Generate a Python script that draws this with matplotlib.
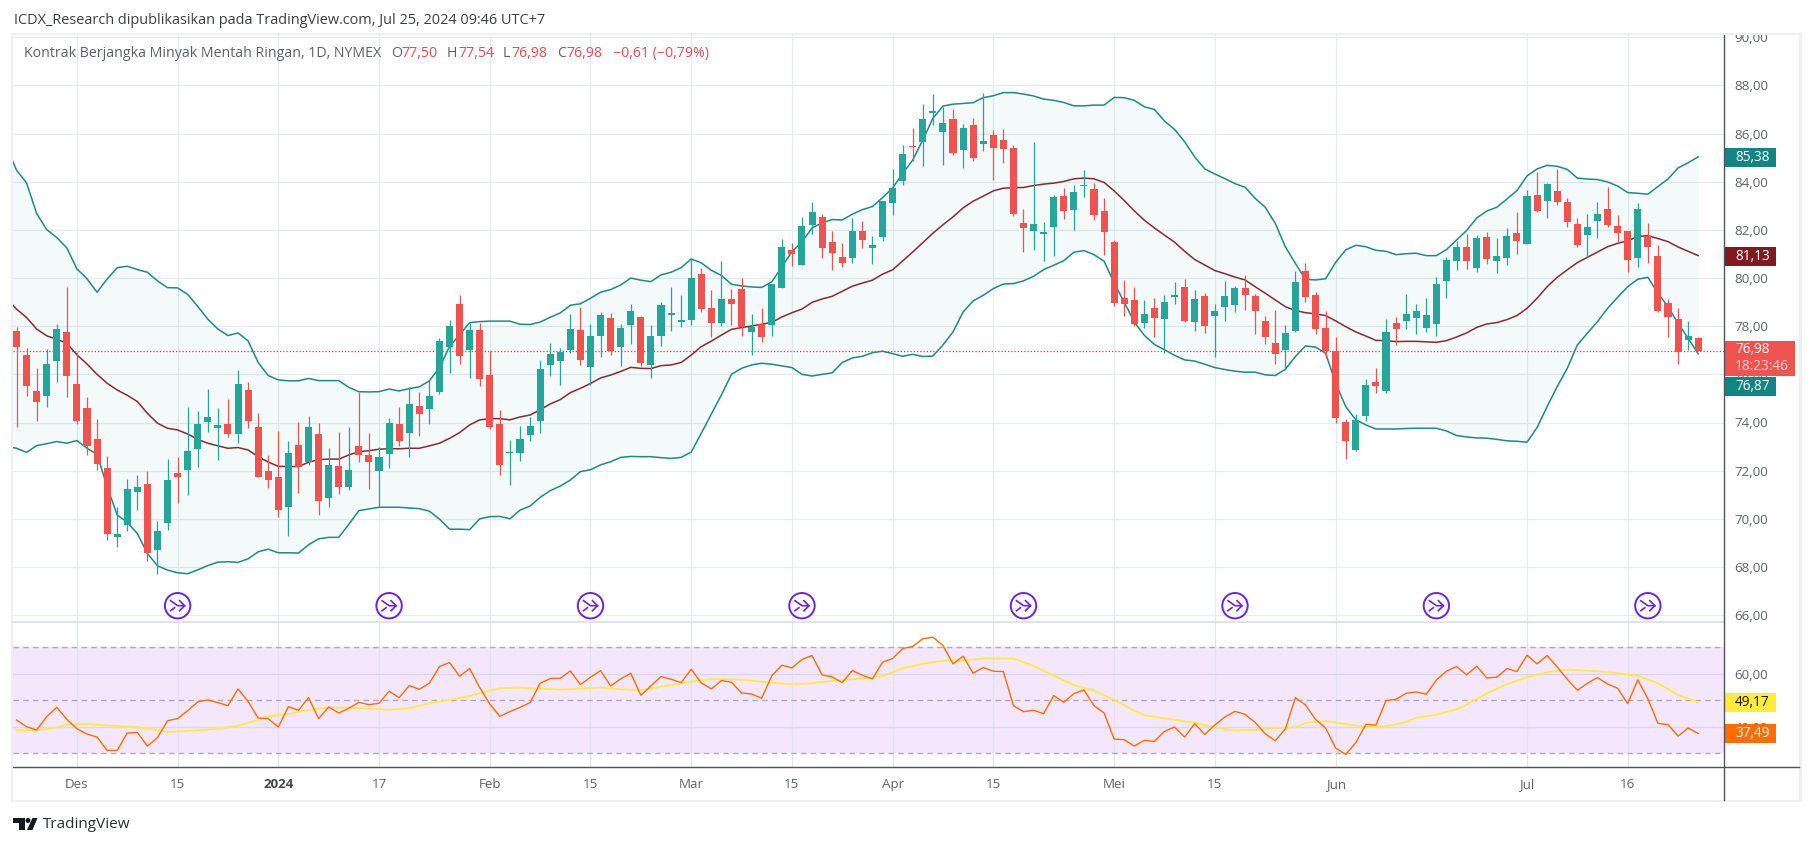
#!/usr/bin/env python3
# -*- coding: utf-8 -*-

import matplotlib
matplotlib.use("Agg")
import matplotlib.pyplot as plt
from matplotlib.patches import Rectangle, Polygon, Circle
import numpy as np

plt.rcParams['font.family'] = ['Open Sans', 'DejaVu Sans']

# daily candles, one row of ten per line
OPEN = [
    77.81, 76.81, 75.31, 75.08, 76.57, 77.77, 75.61, 74.61, 73.32, 72.11,
    69.24, 69.74, 71.11, 71.45, 68.70, 69.83, 71.90, 72.03, 72.90, 74.03,
    73.77, 73.94, 73.53, 75.36, 73.82, 71.99, 71.74, 70.49, 73.07, 72.36,
    73.53, 70.87, 72.20, 71.32, 73.03, 72.65, 71.99, 72.69, 73.94, 73.57,
    74.69, 74.57, 75.27, 77.14, 78.93, 77.02, 77.85, 75.98, 73.94, 72.74,
    72.74, 73.49, 74.07, 76.39, 76.56, 77.02, 77.85, 76.31, 77.60, 78.33,
    77.15, 78.03, 78.37, 76.39, 77.58, 78.45, 78.16, 78.24, 80.15, 78.74,
    78.12, 79.12, 79.53, 77.74, 78.08, 78.03, 79.57, 81.15, 80.53, 82.19,
    82.53, 81.49, 80.86, 80.82, 81.94, 81.24, 81.69, 83.11, 84.02, 85.48,
    85.64, 86.85, 86.06, 86.60, 85.31, 86.35, 85.56, 85.93, 85.73, 85.39,
    82.28, 81.94, 81.82, 82.11, 83.40, 82.82, 83.81, 83.69, 82.77, 81.49,
    79.16, 79.07, 78.12, 78.74, 78.28, 79.24, 79.61, 78.16, 79.26, 78.42,
    78.80, 78.88, 79.59, 79.26, 78.22, 77.30, 77.01, 77.80, 80.29, 79.30,
    77.93, 76.97, 74.02, 72.86, 74.27, 75.69, 75.31, 78.13, 78.22, 78.34,
    77.93, 78.09, 79.88, 80.71, 81.29, 80.42, 81.69, 80.71, 80.83, 81.87,
    81.41, 83.45, 83.20, 83.62, 83.16, 82.25, 81.79, 82.37, 82.87, 82.16,
    81.95, 80.83, 81.75, 80.92, 78.97, 78.30, 77.43, 77.50,
]
HIGH = [
    77.96, 77.09, 76.27, 77.05, 78.10, 79.64, 76.91, 75.06, 74.15, 72.61,
    70.48, 71.65, 71.82, 71.99, 69.91, 72.49, 72.57, 74.65, 74.48, 75.40,
    74.61, 74.98, 76.19, 75.69, 74.40, 72.65, 73.65, 73.24, 74.03, 74.27,
    73.98, 72.94, 73.61, 73.82, 75.27, 73.57, 72.99, 74.19, 74.65, 75.47,
    75.27, 75.77, 77.52, 78.27, 79.31, 78.14, 78.14, 76.98, 74.52, 73.28,
    73.86, 74.23, 76.60, 77.31, 77.10, 78.52, 78.81, 78.10, 78.60, 78.56,
    78.08, 78.91, 78.41, 78.03, 78.99, 79.61, 79.28, 80.78, 80.40, 79.49,
    80.70, 79.53, 79.99, 78.49, 78.74, 79.74, 81.61, 81.44, 82.53, 83.15,
    82.65, 81.94, 81.44, 82.48, 82.36, 81.74, 83.19, 84.52, 85.52, 86.23,
    87.22, 87.64, 87.11, 87.02, 86.39, 86.64, 87.68, 86.14, 86.18, 85.52,
    82.86, 85.64, 82.32, 83.44, 83.73, 83.86, 84.48, 83.94, 83.31, 81.57,
    79.91, 79.61, 79.07, 79.16, 79.28, 79.82, 79.95, 79.49, 79.38, 78.92,
    79.88, 79.67, 80.13, 79.34, 78.42, 78.67, 78.05, 80.29, 80.63, 79.42,
    78.63, 77.55, 74.15, 74.36, 75.81, 76.27, 78.30, 78.38, 79.34, 78.92,
    79.17, 80.04, 80.87, 81.54, 81.83, 81.79, 81.91, 81.66, 82.08, 82.74,
    83.66, 84.40, 83.95, 84.53, 83.32, 82.49, 82.66, 83.16, 83.78, 82.62,
    81.95, 83.12, 82.29, 81.37, 79.13, 78.76, 78.22, 77.54,
]
LOW = [
    73.83, 75.11, 74.07, 74.65, 75.69, 75.06, 73.94, 72.65, 72.03, 69.12,
    68.83, 69.49, 70.37, 68.25, 67.70, 69.53, 70.66, 70.99, 72.15, 73.61,
    72.45, 73.40, 73.15, 73.77, 71.74, 71.28, 70.08, 69.29, 71.07, 72.24,
    70.16, 70.49, 71.03, 71.20, 72.36, 71.24, 70.53, 72.11, 73.03, 72.57,
    73.44, 73.94, 75.19, 76.06, 76.44, 75.85, 75.52, 73.73, 71.82, 71.41,
    72.40, 73.24, 73.57, 75.94, 75.56, 76.89, 76.39, 75.56, 76.73, 76.80,
    76.35, 77.24, 76.35, 75.86, 77.16, 77.79, 77.95, 78.03, 78.58, 77.54,
    77.99, 78.03, 77.58, 76.79, 77.33, 77.58, 79.57, 80.49, 80.53, 81.82,
    80.82, 80.32, 80.45, 80.61, 81.24, 80.57, 81.53, 82.61, 83.86, 84.85,
    84.65, 86.35, 84.69, 85.10, 84.56, 84.85, 85.27, 84.06, 84.77, 82.57,
    81.07, 81.15, 80.70, 80.90, 82.44, 81.98, 83.36, 82.40, 80.95, 78.82,
    78.41, 78.00, 77.91, 77.54, 76.87, 78.91, 78.16, 77.79, 77.72, 76.72,
    78.22, 78.59, 78.67, 77.68, 77.26, 76.43, 76.18, 77.76, 79.01, 77.66,
    76.68, 73.98, 72.49, 72.83, 74.07, 75.23, 75.23, 77.22, 77.89, 77.68,
    77.76, 77.60, 79.17, 80.34, 80.38, 80.25, 80.58, 80.21, 80.54, 81.00,
    81.41, 82.74, 82.49, 83.03, 82.12, 81.29, 80.88, 81.66, 82.12, 81.50,
    80.25, 80.46, 80.63, 78.59, 77.55, 76.43, 77.01, 76.98,
]
CLOSE = [
    77.12, 75.52, 74.86, 76.44, 77.89, 75.95, 74.07, 73.03, 72.28, 69.37,
    69.37, 71.24, 71.32, 68.58, 69.49, 71.61, 71.74, 72.82, 73.94, 74.23,
    73.90, 73.53, 75.61, 74.07, 71.74, 71.61, 70.37, 72.74, 72.15, 73.82,
    70.74, 72.24, 71.32, 72.03, 72.65, 72.36, 72.57, 73.98, 73.24, 74.77,
    74.36, 75.11, 77.39, 78.02, 76.77, 77.85, 75.81, 73.82, 72.24, 72.78,
    73.32, 73.86, 76.23, 76.85, 76.94, 77.89, 76.60, 77.60, 78.45, 76.99,
    77.91, 78.62, 76.49, 77.58, 78.86, 78.53, 78.24, 79.99, 78.70, 78.12,
    79.12, 78.91, 77.95, 77.95, 77.54, 79.74, 81.28, 80.99, 82.15, 82.73,
    81.24, 81.03, 80.61, 81.94, 81.57, 81.36, 83.19, 83.73, 85.14, 85.44,
    86.60, 86.93, 86.43, 85.19, 86.23, 84.98, 85.69, 85.39, 85.35, 82.65,
    82.07, 82.23, 81.90, 83.36, 82.77, 83.56, 83.86, 82.61, 81.90, 78.95,
    78.91, 78.08, 78.49, 78.33, 78.99, 79.28, 78.20, 79.12, 78.01, 78.63,
    79.26, 79.59, 79.30, 78.63, 77.55, 76.85, 77.72, 79.84, 79.21, 77.89,
    76.97, 74.19, 73.24, 74.11, 75.56, 75.52, 77.76, 77.89, 78.51, 78.63,
    78.47, 79.75, 80.75, 81.29, 80.71, 81.66, 80.79, 80.92, 81.75, 81.54,
    83.41, 82.78, 83.91, 83.16, 82.33, 81.37, 82.12, 82.66, 82.20, 81.87,
    80.75, 82.87, 81.29, 78.63, 78.38, 76.93, 77.60, 76.98,
]

# bollinger bands, first value sits one bar left of the visible candles
BB_UPPER = [
    85.48, 84.48, 83.95, 82.68, 82.01, 81.68, 81.25, 80.38, 79.97, 79.41,
    79.96, 80.43, 80.49, 80.35, 80.24, 79.88, 79.60, 79.59, 79.32, 78.82,
    78.29, 77.88, 77.61, 77.72, 77.39, 76.49, 75.95, 75.77, 75.73, 75.73,
    75.83, 75.74, 75.74, 75.74, 75.46, 75.28, 75.27, 75.28, 75.39, 75.31,
    75.41, 75.48, 75.73, 76.28, 77.15, 77.64, 78.15, 78.19, 78.21, 78.21,
    78.21, 78.08, 78.07, 78.17, 78.37, 78.55, 78.87, 78.93, 79.16, 79.41,
    79.52, 79.71, 80.00, 79.91, 79.85, 80.13, 80.24, 80.43, 80.79, 80.63,
    80.32, 80.11, 79.74, 79.67, 79.63, 79.61, 79.84, 80.46, 81.09, 81.50,
    82.08, 82.29, 82.43, 82.41, 82.65, 82.84, 82.97, 83.34, 83.74, 84.34,
    84.90, 85.73, 86.63, 87.14, 87.22, 87.25, 87.28, 87.49, 87.57, 87.70,
    87.70, 87.64, 87.56, 87.43, 87.38, 87.29, 87.15, 87.15, 87.18, 87.18,
    87.50, 87.49, 87.38, 87.11, 87.00, 86.52, 86.17, 85.66, 85.03, 84.53,
    84.32, 84.13, 83.92, 83.77, 83.31, 82.94, 82.27, 81.30, 80.61, 79.95,
    79.92, 79.97, 80.65, 81.17, 81.36, 81.30, 81.15, 81.11, 80.97, 81.01,
    81.03, 80.93, 80.93, 81.18, 81.58, 81.97, 82.49, 82.78, 82.94, 83.28,
    83.63, 84.24, 84.53, 84.68, 84.64, 84.51, 84.15, 84.11, 84.09, 83.99,
    83.82, 83.55, 83.52, 83.48, 83.80, 84.11, 84.57, 84.79, 85.03,
]
BB_MID = [
    79.16, 78.71, 78.36, 77.88, 77.60, 77.46, 77.29, 76.81, 76.43, 76.00,
    75.63, 75.35, 75.13, 74.87, 74.38, 73.97, 73.76, 73.69, 73.52, 73.30,
    73.14, 73.03, 72.93, 72.96, 72.86, 72.58, 72.36, 72.18, 72.17, 72.17,
    72.35, 72.46, 72.48, 72.48, 72.65, 72.79, 72.83, 72.89, 72.91, 72.91,
    72.93, 72.93, 73.03, 73.14, 73.34, 73.58, 73.90, 74.11, 74.16, 74.16,
    74.11, 74.23, 74.31, 74.53, 74.77, 74.95, 75.24, 75.42, 75.62, 75.85,
    75.97, 76.12, 76.29, 76.25, 76.24, 76.36, 76.39, 76.49, 76.80, 77.15,
    77.38, 77.63, 77.87, 77.94, 78.01, 78.08, 78.16, 78.38, 78.56, 78.71,
    78.99, 79.13, 79.24, 79.45, 79.66, 79.79, 79.91, 80.16, 80.34, 80.71,
    81.08, 81.47, 81.86, 82.21, 82.54, 82.91, 83.19, 83.40, 83.62, 83.73,
    83.75, 83.76, 83.84, 83.90, 83.94, 84.01, 84.12, 84.15, 84.12, 83.97,
    83.62, 83.22, 82.79, 82.40, 82.08, 81.78, 81.49, 81.11, 80.77, 80.54,
    80.31, 80.18, 80.04, 79.92, 79.64, 79.37, 79.09, 78.81, 78.65, 78.56,
    78.51, 78.44, 78.22, 77.98, 77.76, 77.59, 77.41, 77.40, 77.36, 77.37,
    77.37, 77.35, 77.33, 77.40, 77.55, 77.72, 77.95, 78.09, 78.15, 78.27,
    78.44, 78.74, 79.16, 79.64, 80.03, 80.34, 80.64, 80.86, 81.08, 81.30,
    81.44, 81.55, 81.72, 81.76, 81.64, 81.51, 81.29, 81.11, 80.93,
]
BB_LOWER = [
    73.00, 72.93, 72.76, 73.04, 73.12, 73.21, 73.14, 73.25, 72.93, 72.68,
    71.33, 70.16, 69.85, 69.39, 68.56, 68.05, 67.87, 67.76, 67.72, 67.88,
    68.06, 68.20, 68.22, 68.19, 68.34, 68.63, 68.74, 68.59, 68.59, 68.58,
    68.92, 69.17, 69.23, 69.23, 69.77, 70.34, 70.41, 70.48, 70.48, 70.48,
    70.45, 70.42, 70.32, 69.99, 69.57, 69.57, 69.55, 70.00, 70.09, 70.10,
    70.00, 70.36, 70.53, 70.89, 71.17, 71.36, 71.61, 71.96, 72.04, 72.24,
    72.37, 72.55, 72.59, 72.58, 72.58, 72.54, 72.51, 72.55, 72.77, 73.55,
    74.35, 75.14, 76.00, 76.25, 76.39, 76.46, 76.42, 76.35, 76.28, 76.00,
    75.93, 76.00, 76.06, 76.49, 76.68, 76.75, 76.90, 76.96, 76.86, 76.75,
    76.83, 76.74, 76.76, 77.22, 77.76, 78.59, 79.05, 79.28, 79.56, 79.75,
    79.77, 79.88, 80.07, 80.35, 80.53, 80.72, 81.07, 81.14, 80.97, 80.70,
    79.79, 79.00, 78.17, 77.62, 77.24, 77.02, 76.79, 76.60, 76.55, 76.42,
    76.28, 76.20, 76.13, 76.09, 76.09, 75.98, 75.95, 76.21, 76.74, 77.18,
    77.13, 76.88, 75.63, 74.66, 74.11, 73.90, 73.73, 73.73, 73.73, 73.75,
    73.76, 73.76, 73.76, 73.65, 73.46, 73.40, 73.36, 73.35, 73.30, 73.24,
    73.22, 73.18, 73.79, 74.66, 75.49, 76.25, 77.22, 77.71, 78.19, 78.74,
    79.20, 79.64, 79.95, 80.03, 79.37, 78.81, 78.12, 77.50, 76.85,
]

RSI = [
    42.56, 40.04, 38.78, 43.82, 47.35, 42.81, 39.28, 37.27, 36.13, 31.09,
    31.09, 37.64, 37.89, 32.73, 35.88, 42.31, 43.07, 46.09, 49.37, 50.13,
    49.12, 47.98, 54.29, 49.50, 43.32, 43.07, 39.91, 47.60, 46.22, 51.01,
    43.07, 47.48, 45.21, 46.97, 49.24, 48.36, 48.87, 53.41, 51.01, 55.55,
    54.16, 56.43, 62.74, 64.25, 59.08, 61.98, 54.79, 48.61, 43.95, 45.71,
    47.35, 49.12, 56.43, 58.20, 58.32, 61.10, 55.93, 58.70, 61.22, 55.42,
    58.07, 60.21, 51.89, 55.42, 58.95, 57.95, 56.68, 61.73, 56.56, 54.29,
    57.44, 56.81, 52.77, 52.40, 50.76, 59.21, 63.24, 62.23, 65.38, 66.90,
    59.58, 58.83, 56.68, 61.22, 59.46, 58.07, 64.38, 65.76, 69.55, 70.30,
    73.20, 73.83, 70.68, 63.75, 66.65, 60.21, 62.36, 60.97, 60.85, 47.98,
    45.71, 46.22, 44.96, 51.77, 49.24, 52.52, 53.91, 47.98, 45.21, 35.37,
    35.12, 32.73, 34.87, 34.49, 38.27, 39.91, 36.13, 41.17, 37.14, 40.67,
    43.70, 45.84, 44.70, 41.68, 37.39, 34.74, 39.16, 51.01, 48.24, 42.81,
    39.53, 31.97, 29.57, 33.99, 40.92, 40.67, 49.87, 50.38, 52.65, 53.15,
    52.27, 57.69, 60.97, 62.74, 59.58, 62.86, 58.45, 58.70, 61.98, 60.85,
    67.02, 63.75, 66.90, 62.61, 57.95, 53.78, 56.43, 58.58, 56.18, 54.54,
    48.74, 57.69, 50.63, 41.30, 40.80, 36.51, 39.53, 37.49,
]
MA_BARS = [
    0, 2, 4, 5, 7, 10, 12, 14, 15, 18, 20, 22, 24, 25, 27, 29, 31, 33, 35, 37,
    39, 41, 43, 45, 47, 48, 50, 52, 54, 56, 58, 60, 62, 63, 65, 67, 69, 71, 73, 75,
    77, 79, 81, 83, 85, 86, 88, 90, 92, 94, 96, 99, 101, 103, 105, 107, 109, 111, 112, 114,
    117, 119, 121, 123, 125, 127, 128, 130, 132, 134, 136, 138, 139, 141, 143, 144, 146, 148, 150, 152,
    154, 157, 159, 161, 163, 165, 167,
]
RSI_MA = [
    38.78, 38.65, 39.79, 40.80, 41.05, 40.29, 39.91, 38.65, 38.02, 38.65,
    39.28, 40.42, 42.56, 43.95, 44.83, 46.34, 47.23, 47.23, 46.85, 46.47,
    46.97, 48.87, 50.13, 51.64, 53.66, 54.54, 54.79, 54.41, 54.04, 54.41,
    54.79, 54.16, 53.91, 54.41, 55.80, 57.06, 57.95, 57.95, 57.44, 56.68,
    56.05, 56.43, 57.32, 57.95, 58.58, 59.08, 62.11, 63.75, 64.88, 65.01,
    65.76, 65.76, 62.99, 59.33, 55.80, 53.66, 50.13, 46.09, 44.33, 43.19,
    41.55, 39.79, 38.65, 38.78, 39.53, 39.79, 41.43, 42.18, 41.05, 39.91,
    40.17, 41.80, 43.44, 44.58, 46.60, 48.36, 52.65, 56.05, 58.70, 60.59,
    61.60, 60.97, 60.21, 59.21, 56.43, 52.02, 49.17,
]

DATE_BARS = [6, 16, 26, 36, 47, 57, 67, 77, 87, 97, 109, 119, 131, 150, 160]
DATE_LABELS = ["Des", "15", "2024", "17", "Feb", "15", "Mar", "15", "Apr", "15",
               "Mei", "15", "Jun", "Jul", "16"]
PRICE_TICKS = list(range(66, 92, 2))
RSI_TICKS = [40, 60]
ICON_BARS = [16, 37, 57, 78, 100, 121, 141, 162]
LAST_PRICE = 76.98

W, H = 1814, 846
GREEN = "#26a69a"
RED = "#ef5350"
TEAL = "#1f8a87"
GRID = "#e4ebf2"
TICK = "#5f626d"

# pixel layout of the panes
X0, BAR_DX = 16.5, 10.07
LEFT, RIGHT = 13, 1724
MAIN_TOP, MAIN_BOTTOM = 35, 622
RSI_BOTTOM = 767


def bar_px(i):
    return X0 + BAR_DX * i


def pane(top, bottom):
    return [LEFT / W, 1 - bottom / H, (RIGHT - LEFT) / W, (bottom - top) / H]


figure = plt.figure(figsize=(W / 100, H / 100), dpi=100, facecolor="white")
xlim = ((LEFT - X0) / BAR_DX, (RIGHT - X0) / BAR_DX)

# price pane: 84 sits at y=181.7 and one unit is 24.08 px
ax = figure.add_axes(pane(MAIN_TOP, MAIN_BOTTOM))
ax.set_xlim(*xlim)
ax.set_ylim(84 - (MAIN_BOTTOM - 181.7) / 24.08, 84 + (181.7 - MAIN_TOP) / 24.08)
ax.set_axisbelow(True)
ax.grid(True, color=GRID, lw=0.85)
ax.set_xticks(DATE_BARS)
ax.set_xticklabels([])
ax.set_yticks(PRICE_TICKS)
ax.set_yticklabels(["%d,00" % p for p in PRICE_TICKS])
ax.yaxis.tick_right()
ax.tick_params(axis="both", length=0)
ax.tick_params(axis="y", labelsize=9.6, labelcolor=TICK, pad=7.5)
for spine in ax.spines.values():
    spine.set_visible(False)

bb_bars = np.arange(-1, 168)
ax.fill_between(bb_bars, BB_LOWER, BB_UPPER, color=GREEN, alpha=0.055, lw=0, zorder=1)
ax.plot(bb_bars, BB_UPPER, color=TEAL, lw=1.1, zorder=2)
ax.plot(bb_bars, BB_LOWER, color=TEAL, lw=1.1, zorder=2)
ax.plot(bb_bars, BB_MID, color="#8a2a2f", lw=1.1, zorder=2)
ax.axhline(LAST_PRICE, color="#f23645", lw=0.9, ls=(0, (1, 1.6)), zorder=2.5)

bars = np.arange(len(OPEN))
opens, highs, lows, closes = map(np.array, (OPEN, HIGH, LOW, CLOSE))
colors = np.where(closes >= opens, GREEN, RED)
ax.vlines(bars, lows, highs, colors=colors, lw=0.9, zorder=3)
tops = np.maximum(opens, closes)
bodies = np.maximum(np.abs(opens - closes), 0.05)
ax.bar(bars, bodies, bottom=tops - bodies, width=0.7, color=colors, lw=0, zorder=4)

# rsi pane: 50 sits at y=700.3 and one unit is 2.65 px
ax_rsi = figure.add_axes(pane(MAIN_BOTTOM, RSI_BOTTOM))
ax_rsi.set_xlim(*xlim)
ax_rsi.set_ylim(50 - (RSI_BOTTOM - 700.3) / 2.65, 50 + (700.3 - MAIN_BOTTOM) / 2.65)
ax_rsi.axhspan(30, 70, color="#f4e6fd", lw=0, zorder=0)
ax_rsi.set_axisbelow(True)
ax_rsi.grid(True, axis="x", color="#dfe4ee", lw=0.85)
ax_rsi.grid(True, axis="y", color="#dcd6f5", lw=1.0)
ax_rsi.set_xticks(DATE_BARS)
ax_rsi.set_xticklabels(DATE_LABELS)
ax_rsi.set_yticks(RSI_TICKS)
ax_rsi.set_yticklabels(["%d,00" % v for v in RSI_TICKS])
ax_rsi.yaxis.tick_right()
ax_rsi.tick_params(axis="both", length=0)
ax_rsi.tick_params(axis="y", labelsize=9.6, labelcolor=TICK, pad=7.5)
ax_rsi.tick_params(axis="x", labelsize=9.6, labelcolor=TICK, pad=8)
for label in ax_rsi.get_xticklabels():
    if label.get_text() == "2024":
        label.set_fontweight("bold")
        label.set_color("#44464f")
for level in (30, 50, 70):
    ax_rsi.axhline(level, color="#b3aab8", lw=1.0, ls=(0, (4, 3)), zorder=1)
for spine in ax_rsi.spines.values():
    spine.set_visible(False)
ax_rsi.plot(MA_BARS, RSI_MA, color="#ffeb3b", lw=1.3, zorder=2)
ax_rsi.plot(bars, RSI, color="#ff6d00", lw=1.0, zorder=3)

# everything in screen pixels from here on: frame, header, price tags, logo
top = figure.add_axes([0, 0, 1, 1], zorder=5)
top.set_xlim(0, W)
top.set_ylim(H, 0)
top.axis("off")

top.add_patch(Rectangle((0, 0), W, 33, color="white", lw=0))
FRAME = "#eeeef4"
top.add_patch(Rectangle((11, 33), 2, 769, color=FRAME, lw=0))
top.add_patch(Rectangle((1799, 33), 3, 769, color=FRAME, lw=0))
top.add_patch(Rectangle((11, 33), 1791, 2.5, color=FRAME, lw=0))
top.add_patch(Rectangle((11, 800), 1791, 2.5, color=FRAME, lw=0))
top.plot([LEFT, RIGHT], [622, 622], color="#e0e3eb", lw=1.5)
top.plot([RIGHT, RIGHT], [35, 800], color="#50535e", lw=1.0)
top.plot([LEFT, 1799], [767.3, 767.3], color="#50535e", lw=1.0)

top.text(13.5, 20, "ICDX_Research dipublikasikan pada TradingView.com, Jul 25, 2024 09:46 UTC+7",
         fontsize=10.45, color="#3b3e48", va="center")

INK = "#5d606b"
LEGEND_RED = "#f4474f"
legend_parts = [
    (23.7, "Kontrak Berjangka Minyak Mentah Ringan, 1D, NYMEX", INK),
    (391, "O", INK), (401, "77,50", LEGEND_RED),
    (447, "H", INK), (458, "77,54", LEGEND_RED),
    (503, "L", INK), (511, "76,98", LEGEND_RED),
    (557, "C", INK), (566, "76,98", LEGEND_RED),
    (613, "\u22120,61 (\u22120,79%)", LEGEND_RED),
]
for x, txt, col in legend_parts:
    top.text(x, 53.5, txt, fontsize=10.15, color=col, va="center")

for i in ICON_BARS:
    cx, cy = bar_px(i), 605.7
    top.add_patch(Circle((cx, cy), 12.7, facecolor="white", edgecolor="#6a22f0", lw=1.4))
    top.plot([cx - 7, cx, cx + 7], [cy - 5, cy, cy], color="#6a22f0", lw=1.2)
    top.plot([cx + 2, cx + 7, cx + 2], [cy - 5, cy, cy + 5], color="#6a22f0", lw=1.2)
    top.plot([cx - 7, cx - 3], [cy + 5, cy + 2], color="#6a22f0", lw=1.2)

price_tags = [
    (148.3, 166.7, 1776, "#138484", "85,38", "white"),
    (247.3, 265.7, 1776, "#801922", "81,13", "white"),
    (377.3, 395.7, 1776, "#138484", "76,87", "white"),
    (692.7, 711.7, 1776, "#ffeb3b", "49,17", "#131722"),
    (724.0, 742.7, 1776, "#ff6d00", "37,49", "white"),
]
for y0, y1, x1, col, txt, ink in price_tags:
    top.add_patch(Rectangle((RIGHT, y0), x1 - RIGHT, y1 - y0, color=col, lw=0))
    top.text(1735, (y0 + y1) / 2, txt, fontsize=9.8, color=ink, va="center")
top.add_patch(Rectangle((RIGHT, 341), 1795 - RIGHT, 35, color=RED, lw=0))
top.text(1735, 349.5, "76,98", fontsize=9.8, color="white", va="center")
top.text(1735, 366, "18:23:46", fontsize=9.8, color="#fbd5d4", va="center")

# logo
LOGO = "#131722"
top.add_patch(Polygon([(12.5, 818), (25, 818), (25, 830), (19, 830), (19, 823), (12.5, 823)], color=LOGO, lw=0))
top.add_patch(Circle((28, 820.5), 2.5, color=LOGO, lw=0))
top.add_patch(Polygon([(32.5, 818), (37.5, 818), (32.5, 830), (27, 830)], color=LOGO, lw=0))
top.text(43, 825, "TradingView", fontsize=11, color="#2a2e39", va="center")

figure.savefig("out.png", dpi=100)
